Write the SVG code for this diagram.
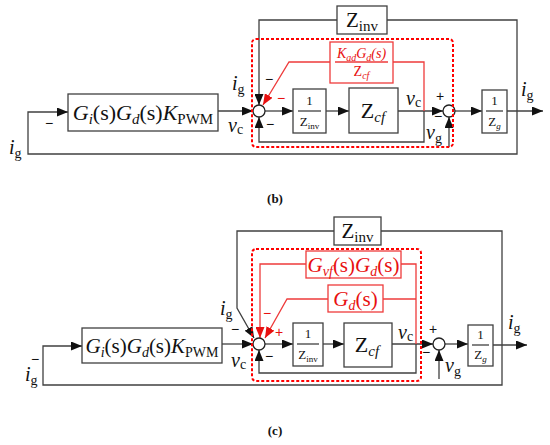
<svg xmlns="http://www.w3.org/2000/svg" width="550" height="445" viewBox="0 0 550 445">
<defs>
<marker id="ab" markerWidth="11" markerHeight="9" refX="11" refY="4.5" orient="auto" markerUnits="userSpaceOnUse"><path d="M0,0 L11,4.5 L0,9 z" fill="#111"/></marker>
<marker id="ar" markerWidth="11" markerHeight="9" refX="11" refY="4.5" orient="auto" markerUnits="userSpaceOnUse"><path d="M0,0 L11,4.5 L0,9 z" fill="#e81010"/></marker>
<style>
.ln{fill:none;stroke:#404040;stroke-width:1.3}
.bx{fill:#fff;stroke:#404040;stroke-width:1.3}
.rl{fill:none;stroke:#ee3b3b;stroke-width:1.3}
.rb{fill:#fff;stroke:#ee3b3b;stroke-width:1.3}
.rd{fill:none;stroke:#ff0000;stroke-width:2;stroke-dasharray:3 2}
.sum{fill:#fff;stroke:#222;stroke-width:1.3}
.t{font-family:"Liberation Serif","Times New Roman",serif;fill:#111}
.r{fill:#e81010}
.i{font-style:italic}
.m{font-family:"Liberation Sans",Arial,sans-serif;font-size:14px}
.cap{font-family:"Liberation Serif",serif;font-weight:bold;font-size:13px;fill:#111}
</style>
</defs>

<!-- ===================== (b) ===================== -->
<g id="b-connectors">
<path class="ln" d="M387 20 H517 V154 H28 V112 H68" marker-end="url(#ab)"/>
<path class="ln" d="M337 20 H259 V105" marker-end="url(#ab)"/>
<path class="ln" d="M218 111 H253" marker-end="url(#ab)"/>
<path class="ln" d="M265 111 H293" marker-end="url(#ab)"/>
<path class="ln" d="M326 111 H349" marker-end="url(#ab)"/>
<path class="ln" d="M398 111 H443" marker-end="url(#ab)"/>
<path class="ln" d="M424 111 V142 H259 V117" marker-end="url(#ab)"/>
<path class="ln" d="M449 147 V117" marker-end="url(#ab)"/>
<path class="ln" d="M455 111 H482" marker-end="url(#ab)"/>
<path class="ln" d="M507 111 H543" marker-end="url(#ab)"/>
<path class="rl" d="M393 62 H424 V111"/>
<path class="rl" d="M330 62 H289 L263 105" marker-end="url(#ar)"/>
</g>
<g id="b-G">
<rect class="bx" x="68" y="94" width="150" height="37"/>
<text class="t" x="143" y="120" font-size="22" text-anchor="middle"><tspan class="i">G</tspan><tspan class="i" font-size="15" dy="4">i</tspan><tspan dy="-4">(s)</tspan><tspan class="i">G</tspan><tspan class="i" font-size="15" dy="4">d</tspan><tspan dy="-4">(s)</tspan><tspan class="i">K</tspan><tspan font-size="15" dy="4">PWM</tspan></text>
</g>
<g id="b-Zinv">
<rect class="bx" x="337" y="6" width="50" height="28"/>
<text class="t" x="362" y="27" font-size="21" text-anchor="middle">Z<tspan font-size="15" dy="4">inv</tspan></text>
</g>
<g id="b-invZinv">
<rect class="bx" x="293" y="89" width="33" height="44"/>
<text class="t" x="309.5" y="105" font-size="13" text-anchor="middle">1</text>
<line class="ln" x1="298" y1="111" x2="321" y2="111"/>
<text class="t" x="309.5" y="126" font-size="13" text-anchor="middle">Z<tspan font-size="9" dy="3">inv</tspan></text>
</g>
<g id="b-Zcf">
<rect class="bx" x="349" y="88" width="49" height="45"/>
<text class="t" x="373" y="118" font-size="22" text-anchor="middle">Z<tspan class="i" font-size="15" dy="4">cf</tspan></text>
</g>
<g id="b-Zg">
<rect class="bx" x="482" y="90" width="25" height="43"/>
<text class="t" x="494.5" y="105" font-size="13" text-anchor="middle">1</text>
<line class="ln" x1="486" y1="111" x2="503" y2="111"/>
<text class="t" x="494.5" y="126" font-size="13" text-anchor="middle">Z<tspan class="i" font-size="9" dy="3">g</tspan></text>
</g>
<g id="b-Kad">
<rect class="rb" x="330" y="42" width="63" height="41"/>
<text class="t r i" x="361.5" y="58" font-size="14" text-anchor="middle">K<tspan font-size="10" dy="3">ad</tspan><tspan dy="-3">G</tspan><tspan font-size="10" dy="3">d</tspan><tspan dy="-3">(s)</tspan></text>
<line class="rl" x1="335" y1="62" x2="388" y2="62"/>
<text class="t r" x="361.5" y="76" font-size="14" text-anchor="middle">Z<tspan class="i" font-size="10" dy="3">cf</tspan></text>
</g>
<g id="b-sum1"><circle class="sum" cx="259" cy="111" r="6"/></g>
<g id="b-sum2"><circle class="sum" cx="449" cy="111" r="6"/></g>
<g id="b-region"><rect class="rd" x="252" y="39" width="201" height="108" rx="4"/></g>
<g id="b-labels">
<text class="t" x="232" y="90" font-size="20"><tspan class="i">i</tspan><tspan font-size="14" dy="4">g</tspan></text>
<text class="t" x="228" y="132" font-size="20"><tspan class="i">v</tspan><tspan font-size="14" dy="2">c</tspan></text>
<text class="t" x="9" y="154" font-size="20"><tspan class="i">i</tspan><tspan font-size="14" dy="4">g</tspan></text>
<text class="t m" x="45" y="128">−</text>
<text class="t m" x="265" y="84">−</text>
<text class="t m r" x="277" y="103">−</text>
<text class="t m" x="266" y="129">−</text>
<text class="t" x="406" y="105" font-size="20"><tspan class="i">v</tspan><tspan font-size="14" dy="2">c</tspan></text>
<text class="t m" x="440" y="101" text-anchor="middle">+</text>
<text class="t m" x="438" y="121" text-anchor="middle">−</text>
<text class="t" x="426" y="139" font-size="20"><tspan class="i">v</tspan><tspan font-size="14" dy="4">g</tspan></text>
<text class="t" x="521" y="96" font-size="20"><tspan class="i">i</tspan><tspan font-size="14" dy="4">g</tspan></text>
<text class="cap" x="275" y="203" text-anchor="middle">(b)</text>
</g>

<!-- ===================== (c) ===================== -->
<g id="c-connectors">
<path class="ln" d="M381 231 H502 V385 H43 V346 H82" marker-end="url(#ab)"/>
<path class="ln" d="M334 231 H237 V308 L254 338" marker-end="url(#ab)"/>
<path class="ln" d="M222 344 H253" marker-end="url(#ab)"/>
<path class="ln" d="M265 344 H293" marker-end="url(#ab)"/>
<path class="ln" d="M323 344 H344" marker-end="url(#ab)"/>
<path class="ln" d="M392 344 H433" marker-end="url(#ab)"/>
<path class="ln" d="M416 344 V373 H259 V350" marker-end="url(#ab)"/>
<path class="ln" d="M439 379 V350" marker-end="url(#ab)"/>
<path class="ln" d="M445 344 H468" marker-end="url(#ab)"/>
<path class="ln" d="M493 345 H527" marker-end="url(#ab)"/>
<path class="rl" d="M306 264 H260 V338" marker-end="url(#ar)"/>
<path class="rl" d="M401 264 H416 V344"/>
<path class="rl" d="M328 299 H287 L265 338" marker-end="url(#ar)"/>
<path class="rl" d="M383 299 H416"/>
</g>
<g id="c-G">
<rect class="bx" x="82" y="328" width="140" height="35"/>
<text class="t" x="152" y="353" font-size="21" text-anchor="middle"><tspan class="i">G</tspan><tspan class="i" font-size="14" dy="4">i</tspan><tspan dy="-4">(s)</tspan><tspan class="i">G</tspan><tspan class="i" font-size="14" dy="4">d</tspan><tspan dy="-4">(s)</tspan><tspan class="i">K</tspan><tspan font-size="14" dy="4">PWM</tspan></text>
</g>
<g id="c-Zinv">
<rect class="bx" x="334" y="217" width="47" height="28"/>
<text class="t" x="357.5" y="238" font-size="21" text-anchor="middle">Z<tspan font-size="15" dy="4">inv</tspan></text>
</g>
<g id="c-invZinv">
<rect class="bx" x="293" y="323" width="30" height="43"/>
<text class="t" x="308" y="338" font-size="13" text-anchor="middle">1</text>
<line class="ln" x1="297" y1="344" x2="319" y2="344"/>
<text class="t" x="308" y="359" font-size="13" text-anchor="middle">Z<tspan font-size="9" dy="3">inv</tspan></text>
</g>
<g id="c-Zcf">
<rect class="bx" x="344" y="323" width="48" height="44"/>
<text class="t" x="367" y="352" font-size="22" text-anchor="middle">Z<tspan class="i" font-size="15" dy="4">cf</tspan></text>
</g>
<g id="c-Zg">
<rect class="bx" x="468" y="325" width="25" height="41"/>
<text class="t" x="480.5" y="339" font-size="13" text-anchor="middle">1</text>
<line class="ln" x1="472" y1="345" x2="489" y2="345"/>
<text class="t" x="480.5" y="359" font-size="13" text-anchor="middle">Z<tspan class="i" font-size="9" dy="3">g</tspan></text>
</g>
<g id="c-Gvf">
<rect class="rb" x="306" y="251" width="95" height="27"/>
<text class="t r" x="353.5" y="272" font-size="21" text-anchor="middle"><tspan class="i">G</tspan><tspan class="i" font-size="14" dy="4">vf</tspan><tspan dy="-4">(s)</tspan><tspan class="i">G</tspan><tspan class="i" font-size="14" dy="4">d</tspan><tspan dy="-4">(s)</tspan></text>
</g>
<g id="c-Gd">
<rect class="rb" x="328" y="285" width="55" height="27"/>
<text class="t r" x="355.5" y="306" font-size="21" text-anchor="middle"><tspan class="i">G</tspan><tspan class="i" font-size="14" dy="4">d</tspan><tspan dy="-4">(s)</tspan></text>
</g>
<g id="c-sum1"><circle class="sum" cx="259" cy="344" r="6"/></g>
<g id="c-sum2"><circle class="sum" cx="439" cy="344" r="6"/></g>
<g id="c-region"><rect class="rd" x="252" y="249" width="169" height="132" rx="4"/></g>
<g id="c-labels">
<text class="t" x="220" y="315" font-size="20"><tspan class="i">i</tspan><tspan font-size="14" dy="4">g</tspan></text>
<text class="t m" x="231" y="334">−</text>
<text class="t" x="231" y="367" font-size="20"><tspan class="i">v</tspan><tspan font-size="14" dy="2">c</tspan></text>
<text class="t m" x="31" y="364">−</text>
<text class="t" x="25" y="381" font-size="20"><tspan class="i">i</tspan><tspan font-size="14" dy="4">g</tspan></text>
<text class="t m r" x="263" y="318">−</text>
<text class="t m r" x="275" y="337">+</text>
<text class="t m" x="265" y="361">−</text>
<text class="t" x="398" y="339" font-size="20"><tspan class="i">v</tspan><tspan font-size="14" dy="2">c</tspan></text>
<text class="t m" x="433" y="334" text-anchor="middle">+</text>
<text class="t m" x="426" y="357" text-anchor="middle">−</text>
<text class="t" x="445" y="372" font-size="20"><tspan class="i">v</tspan><tspan font-size="14" dy="4">g</tspan></text>
<text class="t" x="508" y="329" font-size="20"><tspan class="i">i</tspan><tspan font-size="14" dy="4">g</tspan></text>
<text class="cap" x="275" y="435" text-anchor="middle">(c)</text>
</g>
</svg>
